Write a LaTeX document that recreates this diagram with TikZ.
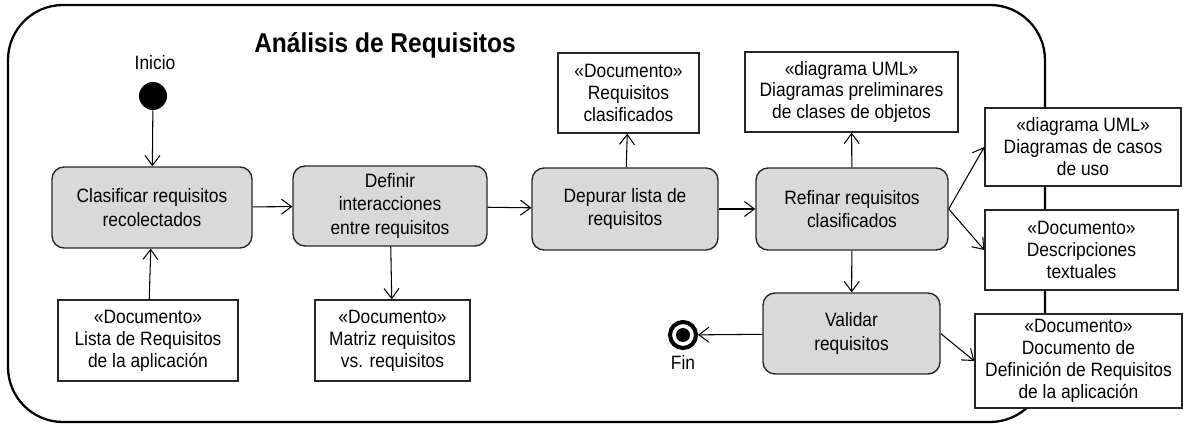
\documentclass[tikz,border=0pt]{standalone}
\usepackage{fontspec}
\setmainfont{Liberation Sans}[FakeStretch=0.9]
\usetikzlibrary{arrows.meta}

\tikzset{
  activity/.style={draw=black!85, line width=0.8pt, fill=gray!30, rounded corners=0.24cm,
    align=center, inner sep=1pt, font=\fontsize{11}{13.3}\selectfont},
  artifact/.style={draw=black!85, line width=0.8pt, fill=white,
    align=center, inner sep=1pt, font=\fontsize{11}{12.5}\selectfont},
  flow/.style={line width=0.6pt, -{Straight Barb[length=2mm,width=3mm]}},
}

\begin{document}
\begin{tikzpicture}[x=0.02cm, y=-0.02cm]
    \useasboundingbox (0,0) rectangle (1188,426);
    % Frame
    \draw[line width=1.3pt, rounded corners=1.1cm] (8,5) rectangle (1045,422);
    \node[font=\bfseries\fontsize{15.5}{18}\selectfont] (titulo) at (385,45) {Análisis de Requisitos};
    % Start and end
    \node[font=\fontsize{11}{13}\selectfont] (lblinicio) at (155,63) {Inicio};
    \node[circle, fill=black, minimum size=0.56cm, inner sep=0pt] (inicio) at (153,96) {};
    \node[circle, draw, line width=2.3pt, minimum size=0.52cm, inner sep=0pt] (fin) at (683,335) {};
    \node[circle, fill=black, minimum size=0.28cm, inner sep=0pt] (finpunto) at (fin) {};
    \node[font=\fontsize{11}{13}\selectfont] (lblfin) at (683,362) {Fin};
    % Activities
    \node[activity, minimum width=4cm, minimum height=1.62cm] (clasificar) at (152,207.5) {Clasificar requisitos\\recolectados};
    \node[activity, minimum width=3.88cm, minimum height=1.6cm] (definir) at (390,206) {Definir\\interacciones\\entre requisitos};
    \node[activity, minimum width=3.72cm, minimum height=1.64cm] (depurar) at (625,209) {Depurar lista de\\requisitos};
    \node[activity, minimum width=3.84cm, minimum height=1.64cm] (refinar) at (852,209) {Refinar requisitos\\clasificados};
    \node[activity, minimum width=3.54cm, minimum height=1.62cm] (validar) at (851.5,333.5) {Validar\\requisitos};
    % Artifacts
    \node[artifact, minimum width=3.6cm, minimum height=1.62cm] (lista) at (148,340.5) {«Documento»\\Lista de Requisitos\\de la aplicación};
    \node[artifact, minimum width=3.1cm, minimum height=1.62cm] (matriz) at (392.5,340.5) {«Documento»\\Matriz requisitos\\vs. requisitos};
    \node[artifact, minimum width=2.82cm, minimum height=1.6cm] (reqclas) at (628.5,93) {«Documento»\\Requisitos\\clasificados};
    \node[artifact, minimum width=4.26cm, minimum height=1.6cm] (diagprel) at (851.5,92) {«diagrama UML»\\Diagramas preliminares\\de clases de objetos};
    \node[artifact, minimum width=3.92cm, minimum height=1.56cm] (casos) at (1083,147) {«diagrama UML»\\Diagramas de casos\\de uso};
    \node[artifact, minimum width=3.86cm, minimum height=1.6cm] (descr) at (1081.5,250) {«Documento»\\Descripciones\\textuales};
    \node[artifact, minimum width=4.14cm, minimum height=1.88cm] (docdef) at (1078.5,361) {«Documento»\\Documento de\\Definición de Requisitos\\de la aplicación};
    % Flows
    \draw[flow] (inicio) -- (clasificar);
    \draw[flow] (clasificar) -- (definir);
    \draw[flow] (definir) -- (depurar);
    \draw[flow] (depurar) -- (refinar);
    \draw[flow] (refinar) -- (validar);
    \draw[flow] (validar) -- (fin);
    \draw[flow] (lista) -- (clasificar);
    \draw[flow] (definir) -- (matriz);
    \draw[flow] (depurar) -- (reqclas);
    \draw[flow] (refinar) -- (diagprel);
    \draw[flow] (refinar.east) -- (casos.west);
    \draw[flow] (refinar.east) -- (descr.west);
    \draw[flow] (validar.east) -- (docdef.west);
\end{tikzpicture}
\end{document}
